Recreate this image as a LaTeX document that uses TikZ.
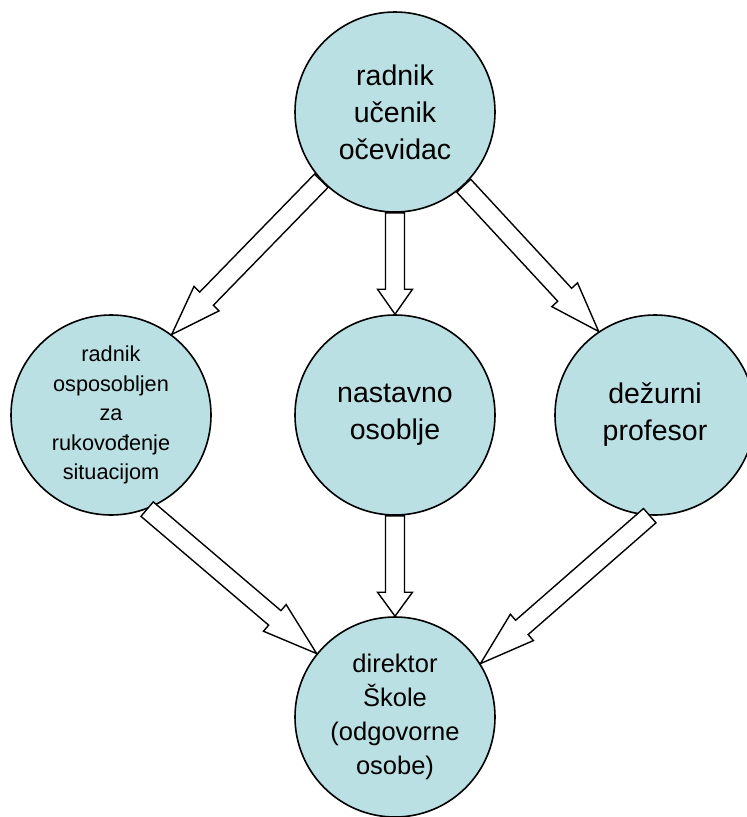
\documentclass[tikz,border=0pt]{standalone}
\usepackage{fontspec}
\setmainfont{Liberation Sans}
\usetikzlibrary{
  positioning,
  calc
}

\definecolor{bubbleFill}{RGB}{187,224,227}

% block arrow: #1 head length, #2 from, #3 to
\newcommand{\flowArrow}[3]{%
  \path (#2) coordinate (fa-s) (#3) coordinate (fa-t)
    ($(fa-t)!#1!(fa-s)$) coordinate (fa-h);
  \draw[flow] ($(fa-s)!\shaftW!90:(fa-t)$) -- ($(fa-h)!\shaftW!90:(fa-t)$)
    -- ($(fa-h)!\headW!90:(fa-t)$) -- (fa-t)
    -- ($(fa-h)!\headW!-90:(fa-t)$) -- ($(fa-h)!\shaftW!-90:(fa-t)$)
    -- ($(fa-s)!\shaftW!-90:(fa-t)$) -- cycle;
}

\begin{document}
\begin{tikzpicture}[
    x=1pt,y=-1pt,
    node distance=303pt and 284pt, on grid,
    person/.style={
      circle,
      draw=black,
      line width=1.6pt,
      fill=bubbleFill,
      minimum size=200pt,
      inner sep=0pt,
      align=center
    },
    flow/.style={
      draw=black,
      fill=white,
      line width=1.4pt,
      line join=miter
    }
  ]
  \newcommand{\shaftW}{9.5pt}
  \newcommand{\headW}{17.5pt}
  \newcommand{\bigText}{\fontsize{28.5}{37}\selectfont}

  \useasboundingbox (0,0) rectangle (747,817);

  % Witness
  \node[person, font=\bigText] (witness) at (395,112) {radnik\\učenik\\očevidac};

  % Middle row
  \node[person, font=\bigText, below=of witness] (staff) {nastavno\\osoblje};
  \node[person, font=\fontsize{21.7}{29.5}\selectfont, left=of staff] (trained)
    {radnik\\osposobljen\\za\\rukovođenje\\situacijom};
  \node[person, font=\bigText, right=260pt of staff] (duty) {dežurni\\profesor};

  % Principal
  \node[person, font=\fontsize{25.5}{34}\selectfont, below=302pt of staff] (principal)
    {direktor\\Škole\\(odgovorne\\osobe)};

  % Arrows down
  \flowArrow{50pt}{witness.223}{trained.53}
  \flowArrow{25pt}{witness.south}{staff.north}
  \flowArrow{50pt}{witness.313}{duty.124}

  \flowArrow{55pt}{trained.291}{principal.141}
  \flowArrow{24pt}{staff.south}{principal.north}
  \flowArrow{55pt}{duty.267}{principal.32}
\end{tikzpicture}
\end{document}
